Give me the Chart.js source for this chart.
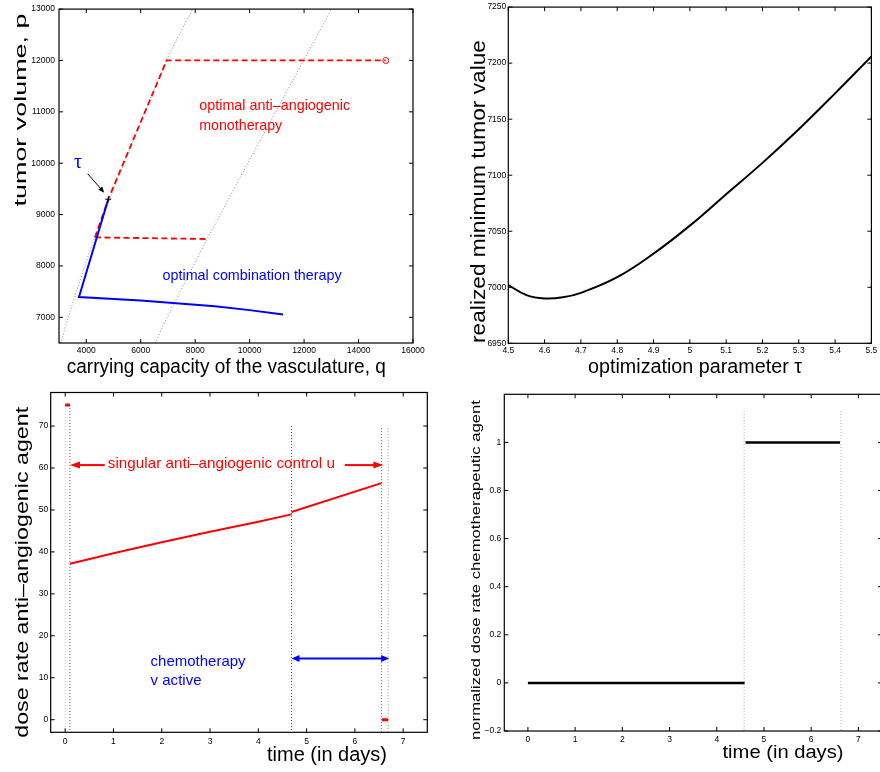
<!DOCTYPE html>
<html>
<head>
<meta charset="utf-8">
<script src="https://cdn.jsdelivr.net/npm/chart.js@4.4.1/dist/chart.umd.min.js"></script>
<style>
  html, body { margin: 0; padding: 0; background: #fff; overflow: hidden; }
  #wrap { position: relative; width: 880px; height: 772px; overflow: hidden; }
  canvas { position: absolute; }
</style>
</head>
<body>
<div id="wrap">
  <canvas id="c1" width="440" height="385" style="left:0;top:0"></canvas>
  <canvas id="c2" width="440" height="385" style="left:440px;top:0"></canvas>
  <canvas id="c3" width="440" height="387" style="left:0;top:385px"></canvas>
  <canvas id="c4" width="450" height="387" style="left:440px;top:385px"></canvas>
</div>
<script>
// --- panel 1: trajectories in the (q, p) plane ---
const arcQ = [3070, 3340, 4320, 6950, 7906];
const arcP = [6500, 7000, 8560, 12000, 13000];
const arc2Q = [6535, 6952, 8604, 13006];
const arc2P = [6500, 6978, 8686, 13000];
const monoQ = [4321, 4809, 6952, 15000];
const monoP = [8556, 9299, 12000, 12000];
const monoLowQ = [4321, 8480];
const monoLowP = [8556, 8524];
const comboQ = [4809, 3734, 6000, 8725, 10000, 11231];
const comboP = [9299, 7395, 7325, 7215, 7140, 7054];
const qTicks = [4000, 6000, 8000, 10000, 12000, 14000, 16000];
const pTicks = [7000, 8000, 9000, 10000, 11000, 12000, 13000];

// --- panel 2: minimum tumor value vs tau ---
const tauVals = [4.5, 4.55, 4.6, 4.65, 4.7, 4.8, 4.9, 5.0, 5.1, 5.2, 5.3, 5.4, 5.5];
const minTumor = [7002, 6993, 6990, 6991, 6995, 7009, 7030, 7055, 7083, 7111, 7141, 7173, 7206];
const tauTicks = [4.5, 4.6, 4.7, 4.8, 4.9, 5, 5.1, 5.2, 5.3, 5.4, 5.5];
const minTicks = [6950, 7000, 7050, 7100, 7150, 7200, 7250];

// --- panel 3: anti-angiogenic control u(t) ---
const uSpikeT = [0, 0.1];
const uSpike = [75, 75];
const uSing1T = [0.1, 1, 2, 3, 4, 4.687];
const uSing1 = [37.2, 39.7, 42.3, 44.8, 47.2, 48.95];
const uSing2T = [4.687, 6.55];
const uSing2 = [49.5, 56.4];
const uOffT = [6.56, 6.69];
const uOff = [0, 0];
const switchT3 = [0, 0.1, 4.687, 6.55, 6.69];
const switchTop3 = [75, 75, 70, 69.5, 69.5];
const dayTicks = [0, 1, 2, 3, 4, 5, 6, 7];
const uTicks = [0, 10, 20, 30, 40, 50, 60, 70];

// --- panel 4: chemotherapy v(t) ---
const vOffT = [0, 4.59];
const vOff = [0, 0];
const vOnT = [4.61, 6.61];
const vOn = [1, 1];
const switchT4 = [4.58, 6.63];
const switchTop4 = [1.13, 1.13];
const vTicks = [-0.2, 0, 0.2, 0.4, 0.6, 0.8, 1];

const SANS = '"Liberation Sans", Arial, Helvetica, sans-serif';
const RED = '#ff0000', BLUE = '#0000ff';

function pts(xs, ys) { return xs.map((v, i) => ({ x: v, y: ys[i] })); }

function line(xs, ys, color, extra) {
    return Object.assign({
        data: pts(xs, ys), showLine: true, borderColor: color, backgroundColor: color,
        borderWidth: 2, pointRadius: 0, tension: 0, fill: false
    }, extra || {});
}

function vline(t, top, bottom, color) {
    return line([t, t], [top, bottom], color, { borderWidth: 1, borderDash: [1, 2] });
}

function axis(min, max, ticks, pos, size, fsize, pad) {
    return {
        type: 'linear', min, max, position: pos,
        grid: { display: false, drawTicks: false },
        border: { display: false },
        afterBuildTicks: s => { s.ticks = ticks.map(v => ({ value: v })); },
        afterFit: s => { if (pos === 'bottom') s.height = size; else s.width = size; },
        ticks: {
            autoSkip: false, maxRotation: 0, padding: pad, color: '#000',
            font: { family: SANS, size: fsize },
            callback: v => String(v).replace('-', '\u2212')
        }
    };
}

function arrowHead(ctx, x1, y1, x2, y2, len, half) {
    const a = Math.atan2(y2 - y1, x2 - x1), c = Math.cos(a), s = Math.sin(a);
    ctx.beginPath();
    ctx.moveTo(x2, y2);
    ctx.lineTo(x2 - len * c + half * s, y2 - len * s - half * c);
    ctx.lineTo(x2 - len * c - half * s, y2 - len * s + half * c);
    ctx.closePath();
    ctx.fill();
}

function fitText(ctx, text, x, y, size, w, rot, align, family) {
    ctx.save();
    ctx.font = size + 'px ' + (family || SANS);
    ctx.textAlign = align;
    ctx.textBaseline = 'alphabetic';
    const m = ctx.measureText(text).width;
    ctx.translate(x, y);
    if (rot) ctx.rotate(-Math.PI / 2);
    if (w) ctx.scale(w / m, 1);
    ctx.fillText(text, 0, 0);
    ctx.restore();
}

// frame with inward ticks, arrows, notes and axis titles
function deco(cfg) {
    return {
        id: 'deco',
        afterDraw(chart) {
            const ctx = chart.ctx, a = chart.chartArea, sx = chart.scales.x, sy = chart.scales.y;
            ctx.save();
            ctx.strokeStyle = '#000';
            ctx.lineWidth = 1;
            ctx.beginPath();
            sx.ticks.forEach(t => {
                const p = sx.getPixelForValue(t.value);
                ctx.moveTo(p, a.bottom); ctx.lineTo(p, a.bottom - 4);
                ctx.moveTo(p, a.top); ctx.lineTo(p, a.top + 4);
            });
            sy.ticks.forEach(t => {
                const p = sy.getPixelForValue(t.value);
                ctx.moveTo(a.left, p); ctx.lineTo(a.left + 4, p);
                ctx.moveTo(a.right, p); ctx.lineTo(a.right - 4, p);
            });
            ctx.stroke();
            ctx.lineWidth = 1.2;
            ctx.strokeRect(a.left, a.top, a.right - a.left, a.bottom - a.top);

            (cfg.arrows || []).forEach(ar => {
                const x1 = sx.getPixelForValue(ar.from[0]), y1 = sy.getPixelForValue(ar.from[1]);
                const x2 = sx.getPixelForValue(ar.to[0]), y2 = sy.getPixelForValue(ar.to[1]);
                const d = Math.hypot(x2 - x1, y2 - y1), ux = (x2 - x1) / d, uy = (y2 - y1) / d;
                ctx.strokeStyle = ar.color; ctx.fillStyle = ar.color; ctx.lineWidth = ar.lw;
                ctx.beginPath();
                ctx.moveTo(ar.both ? x1 + ux * ar.len * 0.8 : x1, ar.both ? y1 + uy * ar.len * 0.8 : y1);
                ctx.lineTo(x2 - ux * ar.len * 0.8, y2 - uy * ar.len * 0.8);
                ctx.stroke();
                arrowHead(ctx, x1, y1, x2, y2, ar.len, ar.half);
                if (ar.both) arrowHead(ctx, x2, y2, x1, y1, ar.len, ar.half);
            });

            (cfg.notes || []).forEach(n => {
                ctx.fillStyle = n.color;
                fitText(ctx, n.text, sx.getPixelForValue(n.x), sy.getPixelForValue(n.y), n.size, n.w, false, 'left', n.family);
            });

            ctx.fillStyle = '#000';
            (cfg.titles || []).forEach(t => fitText(ctx, t.text, t.x, t.y, t.size, t.w, t.rot, 'center'));
            ctx.restore();
        }
    };
}

function makeChart(id, datasets, x, y, pad, extra) {
    return new Chart(document.getElementById(id), {
        type: 'scatter',
        data: { datasets },
        options: {
            responsive: false,
            animation: false,
            layout: { padding: pad },
            plugins: { legend: { display: false }, tooltip: { enabled: false } },
            scales: { x, y }
        },
        plugins: [deco(extra)]
    });
}

// --- Panel 1 ---
makeChart('c1', [
    line([comboQ[0]], [comboP[0]], '#000', { showLine: false, pointRadius: 3, pointStyle: 'cross', pointBorderWidth: 1 }),
    line([monoQ[monoQ.length - 1]], [monoP[monoP.length - 1]], RED, { showLine: false, pointRadius: 3, pointBorderWidth: 1, pointBackgroundColor: 'rgba(0,0,0,0)' }),
    line(comboQ, comboP, BLUE),
    line(monoQ, monoP, RED, { borderWidth: 1.8, borderDash: [6, 3.5] }),
    line(monoLowQ, monoLowP, RED, { borderWidth: 1.8, borderDash: [6, 3.5] }),
    line(arcQ, arcP, '#888', { borderWidth: 1, borderDash: [1, 2], tension: 0.3 }),
    line(arc2Q, arc2P, '#888', { borderWidth: 1, borderDash: [1, 2], tension: 0.3 })
],
    axis(3000, 16000, qTicks, 'bottom', 42, 8.5, 3),
    axis(6500, 13000, pTicks, 'left', 59, 8.5, 4),
    { left: 0, right: 27, top: 7, bottom: 0 },
    {
        arrows: [{ from: [4053, 9794], to: [4662, 9427], color: '#000', lw: 1, len: 6, half: 2.5 }],
        notes: [
            { text: 'optimal anti\u2013angiogenic', x: 8149, y: 11032, size: 14.5, w: 151, color: RED },
            { text: 'monotherapy', x: 8149, y: 10646, size: 14.5, w: 83, color: RED },
            { text: 'optimal combination therapy', x: 6805, y: 7719, size: 14.5, w: 179, color: BLUE },
            { text: '\u03c4', x: 3550, y: 9910, size: 20, color: BLUE, family: '"Liberation Serif", "DejaVu Serif", serif' }
        ],
        titles: [
            { text: 'carrying capacity of the vasculature, q', x: 226.3, y: 372.8, size: 20, w: 319 },
            { text: 'tumor volume, p', x: 25.7, y: 110, size: 17, w: 193, rot: true }
        ]
    });

// --- Panel 2 ---
makeChart('c2', [
    line(tauVals, minTumor, '#000', { tension: 0.4 })
],
    axis(4.5, 5.5, tauTicks, 'bottom', 41.7, 8.5, 2.7),
    axis(6950, 7250, minTicks, 'left', 68.3, 8.5, 2),
    { left: 0, right: 6.7, top: 7, bottom: 0 },
    {
        titles: [
            { text: 'optimization parameter \u03c4', x: 255, y: 373, size: 20, w: 214 },
            { text: 'realized minimum tumor value', x: 45, y: 191.5, size: 20.5, w: 303, rot: true }
        ]
    });

// --- Panel 3 ---
const dots3 = ['#bbb', '#555', '#444', '#666', '#999'];
makeChart('c3', [
    line(uSpikeT, uSpike, RED, { borderWidth: 3 }),
    line(uSing1T, uSing1, RED),
    line(uSing2T, uSing2, RED),
    line(uOffT, uOff, RED, { borderWidth: 3 }),
    ...switchT3.map((t, i) => vline(t, switchTop3[i], -3, dots3[i]))
],
    axis(-0.3, 7.5, dayTicks, 'bottom', 39.7, 8.5, 4.5),
    axis(-3, 78, uTicks, 'left', 50.7, 8.5, 2.4),
    { left: 0, right: 12.7, top: 3.3, bottom: 0 },
    {
        arrows: [
            { from: [0.82, 60.7], to: [0.1, 60.7], color: RED, lw: 2, len: 10, half: 3.5 },
            { from: [5.79, 60.7], to: [6.59, 60.7], color: RED, lw: 2, len: 10, half: 3.5 },
            { from: [4.687, 14.6], to: [6.71, 14.6], color: BLUE, lw: 2, len: 8, half: 3.5, both: true }
        ],
        notes: [
            { text: 'singular anti\u2013angiogenic control u', x: 0.884, y: 59.9, size: 14.5, w: 227, color: RED },
            { text: 'chemotherapy', x: 1.768, y: 12.87, size: 15, w: 95, color: BLUE },
            { text: 'v active', x: 1.768, y: 8.17, size: 15, w: 51, color: BLUE }
        ],
        titles: [
            { text: 'time (in days)', x: 327, y: 376, size: 19.5, w: 120 },
            { text: 'dose rate anti\u2013angiogenic agent', x: 28.1, y: 187.3, size: 18, w: 331, rot: true }
        ]
    });

// --- Panel 4 ---
makeChart('c4', [
    line(vOffT, vOff, '#000', { borderWidth: 2.5 }),
    line(vOnT, vOn, '#000', { borderWidth: 2.5 }),
    ...switchT4.map((t, i) => vline(t, switchTop4[i], -0.2, '#aaa'))
],
    axis(-0.5, 7.5, dayTicks, 'bottom', 41, 8.5, 4),
    axis(-0.2, 1.2, vTicks, 'left', 64.3, 8.5, 3),
    { left: 0, right: 8, top: 9.3, bottom: 0 },
    {
        titles: [
            { text: 'time (in days)', x: 343, y: 373, size: 18, w: 121 },
            { text: 'normalized dose rate chemotherapeutic agent', x: 39.5, y: 185, size: 13, w: 340, rot: true }
        ]
    });
</script>
</body>
</html>
